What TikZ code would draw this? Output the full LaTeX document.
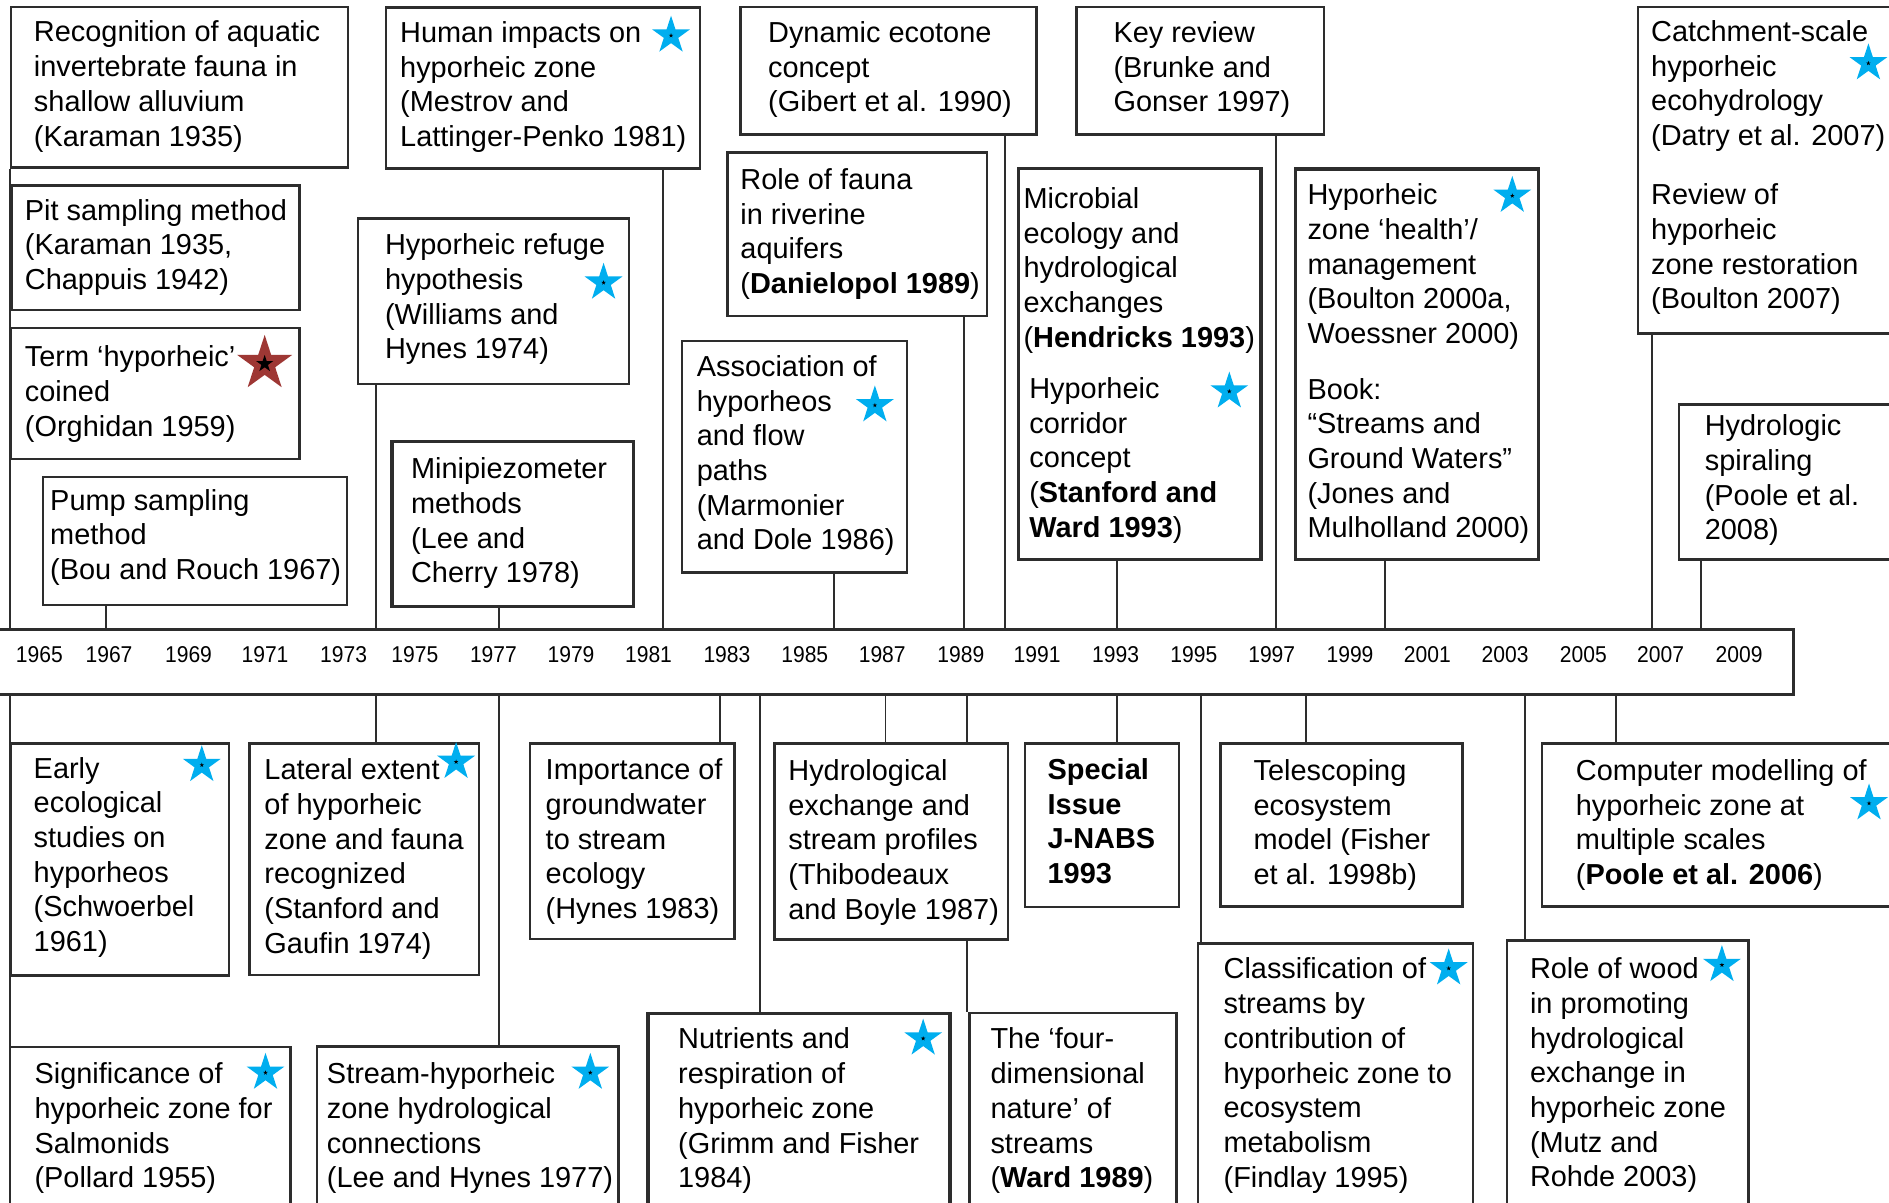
\documentclass[tikz,border=0pt]{standalone}
\usepackage{fontspec}
\setmainfont{Liberation Sans}
\newfontfamily\yearfont[FakeStretch=0.92]{Liberation Sans}
\usetikzlibrary{shapes.geometric}
\pgfdeclarelayer{background}
\pgfsetlayers{background,main}
\definecolor{starblue}{RGB}{0,174,239}
\definecolor{starred}{RGB}{158,55,52}
\definecolor{linegray}{RGB}{45,45,45}
\tikzset{
  box/.style={draw=linegray, line width=2pt, fill=white, inner sep=0pt, anchor=north west},
  thickbox/.style={box, line width=2.8pt},
  conn/.style={draw=linegray, line width=1.6pt},
  txt/.style={anchor=north west, inner sep=0pt, align=left, font=\fontsize{24}{28.8}\selectfont},
  yr/.style={anchor=center, inner sep=0pt, font=\yearfont\fontsize{19}{19}\selectfont},
  bstar/.style={star, star points=5, star point ratio=2.618, fill=starblue, draw=none, minimum size=33pt, inner sep=0pt},
  rstar/.style={star, star points=5, star point ratio=2.618, fill=starred, draw=none, minimum size=48pt, inner sep=0pt},
  dotstar/.style={star, star points=5, star point ratio=2.618, fill=black, draw=none, minimum size=4pt, inner sep=0pt},
  bigdotstar/.style={star, star points=5, star point ratio=2.618, fill=black, draw=none, minimum size=15pt, inner sep=0pt}
}
\newcommand{\mkbox}[6][box]{\node[#1, minimum width={#5pt-(#3pt)}, minimum height={#6pt-(#4pt)}] (#2) at (#3,#4) {};}
\newcommand{\mktxt}[4]{\node[txt] (#1) at (#2,#3-13) {\strut #4};}
\newcommand{\conn}[3]{\draw[conn] (#1,0 |- #2) -- (#1,0 |- #3);}
\newcommand{\bluestar}[3]{\node[bstar] (#1) at (#2,#3) {}; \node[dotstar] (#1d) at (#1) {};}
\begin{document}
\begin{tikzpicture}[x=1pt, y=-1pt]
\useasboundingbox (0,0) rectangle (1568,998);
\clip (0,0) rectangle (1568,998);

% timeline
\mkbox{tl}{-5}{521.6}{1487.8}{575.5}

% top boxes
\mkbox{rec}{8}{5}{288}{138}
\mkbox{pit}{9}{153}{247.5}{256.5}
\mkbox{term}{8}{271.5}{247.5}{380}
\mkbox{pump}{34.5}{394.7}{287}{501}
\mkbox{human}{319.4}{5.2}{580}{139}
\mkbox{refuge}{296.4}{180.4}{521}{317.6}
\mkbox[thickbox]{mini}{324}{365}{524.6}{502}
\mkbox{dyn}{613.7}{4.6}{859.4}{110.6}
\mkbox{fauna}{603}{125.7}{818.5}{261.2}
\mkbox{assoc}{565.1}{282.2}{752}{474.2}
\mkbox[thickbox]{micro}{843.9}{138.5}{1045.2}{462.8}
\mkbox{key}{892.4}{4.6}{1097.9}{110.6}
\mkbox[thickbox]{health}{1073.8}{138.8}{1275.9}{462.8}
\mkbox{catch}{1358.4}{4.6}{1600}{275.7}
\mkbox{spiral}{1392.9}{334.8}{1600}{463.4}

% bottom boxes
\mkbox{early}{8.2}{616.2}{189}{808.8}
\mkbox{lateral}{206}{616.2}{396.4}{808.5}
\mkbox{import}{439}{616.2}{608.8}{778.4}
\mkbox{hydex}{642}{616.2}{835.9}{778.9}
\mkbox{special}{849.9}{616.2}{977.4}{751.8}
\mkbox{telesc}{1012.2}{616.2}{1212.8}{751.3}
\mkbox{computer}{1279.1}{616.2}{1600}{751.3}
\mkbox{signif}{7.4}{868.3}{240}{1010}
\mkbox{streamh}{262}{867.6}{512.4}{1010}
\mkbox[thickbox]{nutr}{536.5}{839.8}{787.3}{1010}
\mkbox{fourd}{803.8}{839.8}{975.7}{1010}
\mkbox{classif}{993.4}{782.2}{1221.7}{1010}
\mkbox{wood}{1249.8}{779.5}{1450.4}{1010}

% connectors, behind the boxes
\begin{pgfonlayer}{background}
\fill[white] (0,0) rectangle (1568,998);
\conn{8}{rec.south}{tl.north}
\conn{88}{pump.south}{tl.north}
\conn{312}{refuge.south}{tl.north}
\conn{414}{mini.south}{tl.north}
\conn{550}{human.south}{tl.north}
\conn{692}{assoc.south}{tl.north}
\conn{800}{fauna.south}{tl.north}
\conn{834}{dyn.south}{tl.north}
\conn{927}{micro.south}{tl.north}
\conn{1059}{key.south}{tl.north}
\conn{1150}{health.south}{tl.north}
\conn{1371}{catch.south}{tl.north}
\conn{1412}{spiral.south}{tl.north}
\conn{8}{tl.south}{signif.north}
\conn{312}{tl.south}{lateral.north}
\conn{414}{tl.south}{streamh.north}
\conn{598}{tl.south}{import.north}
\conn{631}{tl.south}{nutr.north}
\conn{735}{tl.south}{hydex.north}
\conn{803}{tl.south}{fourd.north}
\conn{927}{tl.south}{special.north}
\conn{997}{tl.south}{classif.north}
\conn{1084}{tl.south}{telesc.north}
\conn{1266}{tl.south}{wood.north}
\conn{1341}{tl.south}{computer.north}
\end{pgfonlayer}

% texts, top
\mktxt{trec}{28}{27.5}{Recognition of aquatic\\invertebrate fauna in\\shallow alluvium\\(Karaman 1935)}
\mktxt{tpit}{20.5}{175.5}{Pit sampling method\\(Karaman 1935,\\Chappuis 1942)}
\mktxt{tterm}{20.5}{297}{Term ‘hyporheic’\\coined\\(Orghidan 1959)}
\mktxt{tpump}{41.5}{416}{Pump sampling\\method\\(Bou and Rouch 1967)}
\mktxt{thuman}{332}{28}{Human impacts on\\hyporheic zone\\(Mestrov and\\Lattinger-Penko 1981)}
\mktxt{trefuge}{319.4}{204}{Hyporheic refuge\\hypothesis\\(Williams and\\Hynes 1974)}
\mktxt{tmini}{341}{390}{Minipiezometer\\methods\\(Lee and\\Cherry 1978)}
\mktxt{tdyn}{637.4}{28}{Dynamic ecotone\\concept\\(Gibert et al. 1990)}
\mktxt{tfauna}{614.4}{150}{Role of fauna\\in riverine\\aquifers\\(\textbf{Danielopol 1989})}
\mktxt{tassoc}{578.2}{305}{Association of\\hyporheos\\and flow\\paths\\(Marmonier\\and Dole 1986)}
\mktxt{tmicro}{849.4}{165.7}{Microbial\\ecology and\\hydrological\\exchanges\\(\textbf{Hendricks 1993})}
\mktxt{tcorr}{854.2}{323.3}{Hyporheic\\corridor\\concept\\(\textbf{Stanford and}\\\textbf{Ward 1993})}
\mktxt{tkey}{924.1}{28}{Key review\\(Brunke and\\Gonser 1997)}
\mktxt{thealth}{1085.1}{162.5}{Hyporheic\\zone ‘health’/\\management\\(Boulton 2000a,\\Woessner 2000)}
\mktxt{tbook}{1085.1}{323.9}{Book:\\“Streams and\\Ground Waters”\\(Jones and\\Mulholland 2000)}
\mktxt{tcatch}{1370.4}{27}{Catchment-scale\\hyporheic\\ecohydrology\\(Datry et al. 2007)}
\mktxt{trestor}{1370.4}{162.5}{Review of\\hyporheic\\zone restoration\\(Boulton 2007)}
\mktxt{tspiral}{1414.9}{354.4}{Hydrologic\\spiraling\\(Poole et al.\\2008)}

% texts, bottom
\mktxt{tearly}{27.8}{638.6}{Early\\ecological\\studies on\\hyporheos\\(Schwoerbel\\1961)}
\mktxt{tlateral}{219.3}{640}{Lateral extent\\of hyporheic\\zone and fauna\\recognized\\(Stanford and\\Gaufin 1974)}
\mktxt{timport}{452.8}{640}{Importance of\\groundwater\\to stream\\ecology\\(Hynes 1983)}
\mktxt{thydex}{654.2}{640.5}{Hydrological\\exchange and\\stream profiles\\(Thibodeaux\\and Boyle 1987)}
\mktxt{tspecial}{869.4}{639.7}{\textbf{Special}\\\textbf{Issue}\\\textbf{J-NABS}\\\textbf{1993}}
\mktxt{ttelesc}{1040.4}{640.5}{Telescoping\\ecosystem\\model (Fisher\\et al. 1998b)}
\mktxt{tcomputer}{1307.9}{640.5}{Computer modelling of\\hyporheic zone at\\multiple scales\\(\textbf{Poole et al. 2006})}
\mktxt{tsignif}{28.5}{892.3}{Significance of\\hyporheic zone for\\Salmonids\\(Pollard 1955)}
\mktxt{tstreamh}{271.2}{892.3}{Stream-hyporheic\\zone hydrological\\connections\\(Lee and Hynes 1977)}
\mktxt{tnutr}{562.7}{863.3}{Nutrients and\\respiration of\\hyporheic zone\\(Grimm and Fisher\\1984)}
\mktxt{tfourd}{822}{863.3}{The ‘four-\\dimensional\\nature’ of\\streams\\(\textbf{Ward 1989})}
\mktxt{tclassif}{1015.5}{805.2}{Classification of\\streams by\\contribution of\\hyporheic zone to\\ecosystem\\metabolism\\(Findlay 1995)}
\mktxt{twood}{1269.8}{805}{Role of wood\\in promoting\\hydrological\\exchange in\\hyporheic zone\\(Mutz and\\Rohde 2003)}

% years
\foreach \yr/\xx in {1965/32.7,1967/90.5,1969/156.5,1971/220,1973/285.2,1975/344.4,1977/409.6,1979/474,1981/538.3,1983/603.4,1985/668,1987/732.3,1989/797.6,1991/860.9,1993/926,1995/991,1997/1055.6,1999/1120.6,2001/1184.8,2003/1249.3,2005/1314.3,2007/1378.4,2009/1443.6}
  \node[yr] (y\yr) at (\xx,543.7) {\yr};

% stars
\node[rstar] (sterm) at (219.7,302) {};
\node[bigdotstar] (stermd) at (sterm) {};
\bluestar{shuman}{557}{29.5}
\bluestar{srefuge}{501}{234.6}
\bluestar{sassoc}{726.2}{336.4}
\bluestar{scorr}{1020.4}{324.9}
\bluestar{shealth}{1255.3}{162.5}
\bluestar{scatch}{1550.9}{52.5}
\bluestar{searly}{167.5}{635}
\bluestar{slateral}{378.6}{632.4}
\bluestar{ssignif}{220.4}{890.4}
\bluestar{sstreamh}{490}{890.4}
\bluestar{snutr}{766.3}{862}
\bluestar{scomputer}{1551.4}{666.8}
\bluestar{sclassif}{1202.5}{803.8}
\bluestar{swood}{1429.3}{801}
\end{tikzpicture}
\end{document}
